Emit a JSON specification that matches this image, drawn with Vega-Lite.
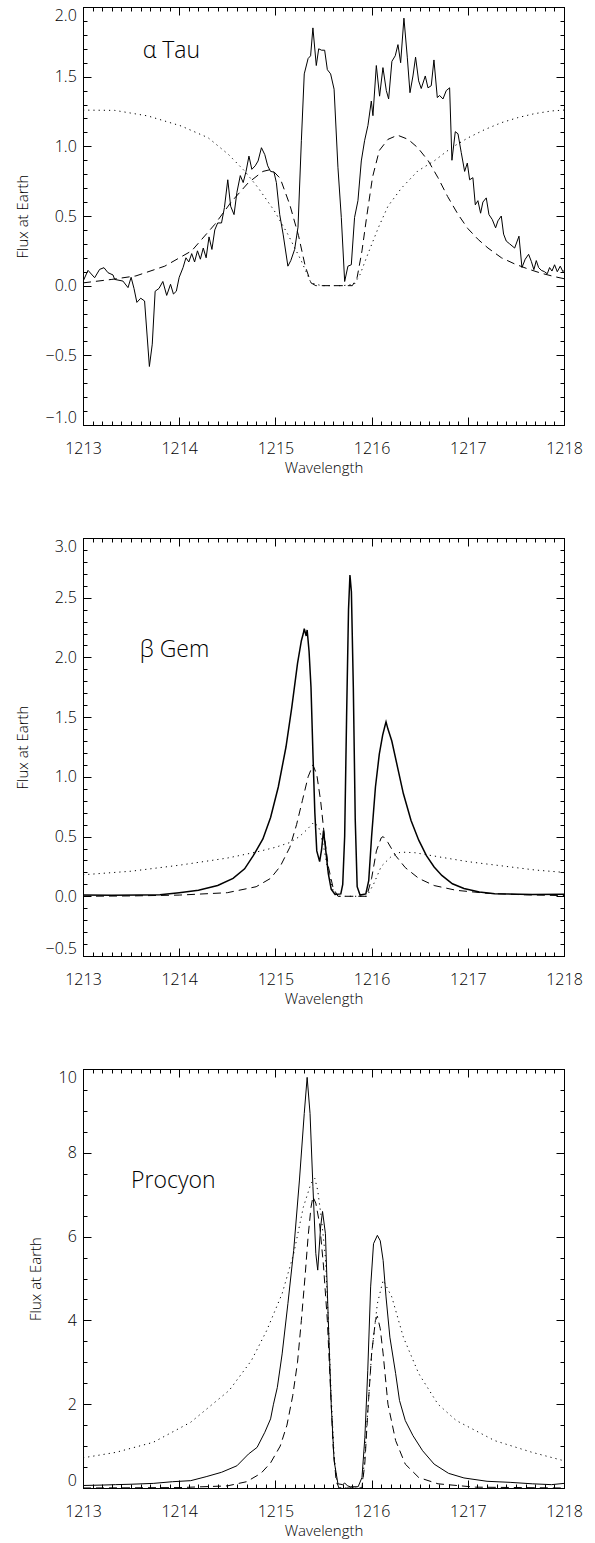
{
  "$schema": "https://vega.github.io/schema/vega-lite/v6.json",
  "padding": {"left": 14, "top": 6, "right": 5, "bottom": 5},
  "background": "white",
  "spacing": 113,
  "bounds": "flush",
  "config": {
    "view": {"stroke": "black", "strokeWidth": 1},
    "axis": {"grid": false, "domain": false, "tickColor": "black", "tickWidth": 1, "labelColor": "black", "titleColor": "black", "labelFont": "Open Sans", "titleFont": "Open Sans", "labelFontSize": 16, "labelFontWeight": 300, "titleFontSize": 15, "titleFontWeight": 300, "labelOverlap": false},
    "text": {"font": "Open Sans", "fontWeight": 300}
  },
  "datasets": {
    "tau_obs": [
      {"w":1213.0,"f":0.03},{"w":1213.052,"f":0.11},{"w":1213.121,"f":0.057},{"w":1213.173,"f":0.117},{"w":1213.218,"f":0.129},{"w":1213.26,"f":0.093},{"w":1213.312,"f":0.077},{"w":1213.329,"f":0.045},{"w":1213.415,"f":0.033},{"w":1213.468,"f":-0.014},{"w":1213.5,"f":0.06},{"w":1213.53,"f":-0.02},{"w":1213.56,"f":-0.12},{"w":1213.6,"f":-0.09},{"w":1213.64,"f":-0.11},{"w":1213.69,"f":-0.58},{"w":1213.72,"f":-0.42},{"w":1213.75,"f":-0.04},{"w":1213.79,"f":-0.02},{"w":1213.83,"f":0.03},{"w":1213.87,"f":-0.07},{"w":1213.91,"f":0.01},{"w":1213.94,"f":-0.06},{"w":1213.97,"f":-0.04},{"w":1214.0,"f":0.06},{"w":1214.04,"f":0.13},{"w":1214.07,"f":0.2},{"w":1214.1,"f":0.17},{"w":1214.13,"f":0.23},{"w":1214.16,"f":0.17},{"w":1214.19,"f":0.25},{"w":1214.22,"f":0.19},{"w":1214.25,"f":0.27},{"w":1214.28,"f":0.2},{"w":1214.31,"f":0.35},{"w":1214.34,"f":0.26},{"w":1214.37,"f":0.4},{"w":1214.4,"f":0.45},{"w":1214.44,"f":0.45},{"w":1214.47,"f":0.56},{"w":1214.505,"f":0.76},{"w":1214.535,"f":0.57},{"w":1214.57,"f":0.51},{"w":1214.6,"f":0.67},{"w":1214.635,"f":0.79},{"w":1214.665,"f":0.74},{"w":1214.695,"f":0.82},{"w":1214.725,"f":0.93},{"w":1214.755,"f":0.835},{"w":1214.79,"f":0.86},{"w":1214.82,"f":0.895},{"w":1214.855,"f":0.99},{"w":1214.89,"f":0.94},{"w":1214.92,"f":0.86},{"w":1214.95,"f":0.82},{"w":1214.985,"f":0.815},{"w":1215.01,"f":0.74},{"w":1215.045,"f":0.51},{"w":1215.08,"f":0.37},{"w":1215.13,"f":0.14},{"w":1215.16,"f":0.18},{"w":1215.2,"f":0.26},{"w":1215.235,"f":0.42},{"w":1215.27,"f":1.04},{"w":1215.3,"f":1.52},{"w":1215.34,"f":1.63},{"w":1215.366,"f":1.65},{"w":1215.39,"f":1.85},{"w":1215.425,"f":1.58},{"w":1215.45,"f":1.7},{"w":1215.48,"f":1.69},{"w":1215.512,"f":1.69},{"w":1215.54,"f":1.55},{"w":1215.574,"f":1.52},{"w":1215.61,"f":1.41},{"w":1215.65,"f":0.85},{"w":1215.685,"f":0.49},{"w":1215.72,"f":0.03},{"w":1215.754,"f":0.14},{"w":1215.789,"f":0.15},{"w":1215.823,"f":0.49},{"w":1215.858,"f":0.61},{"w":1215.893,"f":0.895},{"w":1215.927,"f":1.04},{"w":1215.962,"f":1.15},{"w":1215.997,"f":1.325},{"w":1216.014,"f":1.22},{"w":1216.049,"f":1.58},{"w":1216.083,"f":1.36},{"w":1216.118,"f":1.565},{"w":1216.153,"f":1.4},{"w":1216.177,"f":1.34},{"w":1216.211,"f":1.61},{"w":1216.246,"f":1.65},{"w":1216.274,"f":1.73},{"w":1216.302,"f":1.6},{"w":1216.336,"f":1.92},{"w":1216.371,"f":1.64},{"w":1216.399,"f":1.385},{"w":1216.43,"f":1.505},{"w":1216.457,"f":1.64},{"w":1216.489,"f":1.47},{"w":1216.516,"f":1.415},{"w":1216.558,"f":1.505},{"w":1216.586,"f":1.42},{"w":1216.62,"f":1.435},{"w":1216.648,"f":1.62},{"w":1216.683,"f":1.35},{"w":1216.707,"f":1.365},{"w":1216.742,"f":1.34},{"w":1216.776,"f":1.4},{"w":1216.811,"f":1.42},{"w":1216.835,"f":0.9},{"w":1216.87,"f":1.105},{"w":1216.898,"f":1.09},{"w":1216.932,"f":0.955},{"w":1216.967,"f":0.82},{"w":1216.995,"f":0.88},{"w":1217.019,"f":0.76},{"w":1217.053,"f":0.775},{"w":1217.078,"f":0.58},{"w":1217.105,"f":0.61},{"w":1217.133,"f":0.52},{"w":1217.157,"f":0.6},{"w":1217.192,"f":0.63},{"w":1217.22,"f":0.51},{"w":1217.254,"f":0.475},{"w":1217.289,"f":0.415},{"w":1217.313,"f":0.465},{"w":1217.348,"f":0.5},{"w":1217.372,"f":0.37},{"w":1217.4,"f":0.32},{"w":1217.435,"f":0.3},{"w":1217.487,"f":0.27},{"w":1217.532,"f":0.355},{"w":1217.563,"f":0.13},{"w":1217.597,"f":0.19},{"w":1217.632,"f":0.225},{"w":1217.66,"f":0.175},{"w":1217.687,"f":0.115},{"w":1217.712,"f":0.18},{"w":1217.736,"f":0.13},{"w":1217.764,"f":0.11},{"w":1217.798,"f":0.1},{"w":1217.826,"f":0.085},{"w":1217.85,"f":0.13},{"w":1217.875,"f":0.105},{"w":1217.902,"f":0.15},{"w":1217.93,"f":0.1},{"w":1217.961,"f":0.14},{"w":1217.989,"f":0.1},{"w":1218.0,"f":0.11}
    ],
    "tau_dash": [
      {"w":1213.0,"f":0.02},{"w":1213.3,"f":0.045},{"w":1213.55,"f":0.07},{"w":1213.85,"f":0.14},{"w":1214.13,"f":0.25},{"w":1214.37,"f":0.44},{"w":1214.54,"f":0.6},{"w":1214.72,"f":0.74},{"w":1214.87,"f":0.82},{"w":1214.96,"f":0.835},{"w":1215.05,"f":0.77},{"w":1215.15,"f":0.58},{"w":1215.24,"f":0.36},{"w":1215.31,"f":0.14},{"w":1215.37,"f":0.02},{"w":1215.42,"f":0.0},{"w":1215.8,"f":0.0},{"w":1215.85,"f":0.06},{"w":1215.9,"f":0.25},{"w":1215.95,"f":0.5},{"w":1216.01,"f":0.78},{"w":1216.08,"f":0.97},{"w":1216.17,"f":1.05},{"w":1216.27,"f":1.08},{"w":1216.38,"f":1.05},{"w":1216.48,"f":0.99},{"w":1216.59,"f":0.895},{"w":1216.69,"f":0.775},{"w":1216.79,"f":0.64},{"w":1216.9,"f":0.51},{"w":1217.0,"f":0.41},{"w":1217.11,"f":0.33},{"w":1217.21,"f":0.27},{"w":1217.35,"f":0.2},{"w":1217.49,"f":0.155},{"w":1217.625,"f":0.12},{"w":1217.76,"f":0.09},{"w":1217.9,"f":0.065},{"w":1218.0,"f":0.05}
    ],
    "tau_dot": [
      {"w":1213.0,"f":1.26},{"w":1213.33,"f":1.258},{"w":1213.675,"f":1.218},{"w":1214.02,"f":1.146},{"w":1214.3,"f":1.062},{"w":1214.51,"f":0.943},{"w":1214.68,"f":0.823},{"w":1214.82,"f":0.703},{"w":1214.99,"f":0.536},{"w":1215.13,"f":0.368},{"w":1215.27,"f":0.177},{"w":1215.37,"f":0.02},{"w":1215.48,"f":0.0},{"w":1215.7,"f":0.0},{"w":1215.82,"f":0.01},{"w":1215.88,"f":0.08},{"w":1215.96,"f":0.225},{"w":1216.07,"f":0.416},{"w":1216.17,"f":0.57},{"w":1216.31,"f":0.7},{"w":1216.48,"f":0.823},{"w":1216.65,"f":0.895},{"w":1216.83,"f":0.99},{"w":1217.0,"f":1.06},{"w":1217.175,"f":1.12},{"w":1217.35,"f":1.17},{"w":1217.52,"f":1.206},{"w":1217.69,"f":1.234},{"w":1217.87,"f":1.254},{"w":1218.0,"f":1.26}
    ],
    "gem_obs": [
      {"w":1213.0,"f":0.01},{"w":1213.3,"f":0.008},{"w":1213.6,"f":0.01},{"w":1213.8,"f":0.012},{"w":1214.0,"f":0.03},{"w":1214.2,"f":0.05},{"w":1214.4,"f":0.09},{"w":1214.56,"f":0.15},{"w":1214.68,"f":0.23},{"w":1214.77,"f":0.34},{"w":1214.87,"f":0.48},{"w":1214.95,"f":0.66},{"w":1215.03,"f":0.915},{"w":1215.11,"f":1.25},{"w":1215.17,"f":1.58},{"w":1215.23,"f":1.95},{"w":1215.27,"f":2.14},{"w":1215.29,"f":2.2},{"w":1215.3,"f":2.24},{"w":1215.32,"f":2.18},{"w":1215.33,"f":2.23},{"w":1215.35,"f":2.05},{"w":1215.37,"f":1.75},{"w":1215.39,"f":1.2},{"w":1215.41,"f":0.7},{"w":1215.43,"f":0.38},{"w":1215.46,"f":0.29},{"w":1215.48,"f":0.39},{"w":1215.5,"f":0.55},{"w":1215.52,"f":0.41},{"w":1215.55,"f":0.19},{"w":1215.58,"f":0.06},{"w":1215.62,"f":0.015},{"w":1215.68,"f":0.02},{"w":1215.7,"f":0.1},{"w":1215.72,"f":0.5},{"w":1215.74,"f":1.5},{"w":1215.76,"f":2.4},{"w":1215.775,"f":2.69},{"w":1215.79,"f":2.55},{"w":1215.81,"f":1.75},{"w":1215.83,"f":0.64},{"w":1215.85,"f":0.08},{"w":1215.88,"f":0.01},{"w":1215.94,"f":0.02},{"w":1215.97,"f":0.13},{"w":1216.0,"f":0.5},{"w":1216.04,"f":0.915},{"w":1216.08,"f":1.19},{"w":1216.115,"f":1.35},{"w":1216.14,"f":1.43},{"w":1216.15,"f":1.46},{"w":1216.17,"f":1.4},{"w":1216.21,"f":1.3},{"w":1216.27,"f":1.08},{"w":1216.33,"f":0.86},{"w":1216.41,"f":0.635},{"w":1216.49,"f":0.47},{"w":1216.57,"f":0.34},{"w":1216.65,"f":0.245},{"w":1216.73,"f":0.175},{"w":1216.84,"f":0.105},{"w":1216.96,"f":0.065},{"w":1217.12,"f":0.036},{"w":1217.28,"f":0.022},{"w":1217.67,"f":0.014},{"w":1218.0,"f":0.017}
    ],
    "gem_dash": [
      {"w":1213.0,"f":0.0},{"w":1213.5,"f":0.003},{"w":1214.0,"f":0.01},{"w":1214.5,"f":0.03},{"w":1214.8,"f":0.08},{"w":1214.95,"f":0.15},{"w":1215.05,"f":0.25},{"w":1215.15,"f":0.41},{"w":1215.22,"f":0.6},{"w":1215.28,"f":0.8},{"w":1215.34,"f":1.0},{"w":1215.39,"f":1.1},{"w":1215.43,"f":1.02},{"w":1215.47,"f":0.8},{"w":1215.51,"f":0.5},{"w":1215.55,"f":0.25},{"w":1215.6,"f":0.07},{"w":1215.65,"f":0.0},{"w":1215.95,"f":0.0},{"w":1216.0,"f":0.15},{"w":1216.05,"f":0.38},{"w":1216.1,"f":0.49},{"w":1216.12,"f":0.5},{"w":1216.17,"f":0.45},{"w":1216.25,"f":0.34},{"w":1216.35,"f":0.24},{"w":1216.49,"f":0.15},{"w":1216.65,"f":0.09},{"w":1216.88,"f":0.05},{"w":1217.2,"f":0.025},{"w":1217.6,"f":0.012},{"w":1218.0,"f":0.006}
    ],
    "gem_dot": [
      {"w":1213.0,"f":0.18},{"w":1213.5,"f":0.21},{"w":1214.0,"f":0.26},{"w":1214.5,"f":0.32},{"w":1214.8,"f":0.37},{"w":1215.0,"f":0.41},{"w":1215.15,"f":0.45},{"w":1215.25,"f":0.5},{"w":1215.33,"f":0.56},{"w":1215.4,"f":0.62},{"w":1215.45,"f":0.58},{"w":1215.5,"f":0.42},{"w":1215.55,"f":0.2},{"w":1215.6,"f":0.05},{"w":1215.65,"f":0.0},{"w":1215.95,"f":0.0},{"w":1216.02,"f":0.1},{"w":1216.1,"f":0.25},{"w":1216.2,"f":0.33},{"w":1216.3,"f":0.37},{"w":1216.45,"f":0.365},{"w":1216.7,"f":0.33},{"w":1217.0,"f":0.29},{"w":1217.4,"f":0.25},{"w":1217.7,"f":0.22},{"w":1218.0,"f":0.2}
    ],
    "pro_obs": [
      {"w":1213.0,"f":0.06},{"w":1213.2,"f":0.07},{"w":1213.34,"f":0.08},{"w":1213.5,"f":0.09},{"w":1213.73,"f":0.11},{"w":1213.93,"f":0.15},{"w":1214.12,"f":0.175},{"w":1214.28,"f":0.27},{"w":1214.44,"f":0.375},{"w":1214.6,"f":0.53},{"w":1214.72,"f":0.81},{"w":1214.81,"f":0.97},{"w":1214.89,"f":1.33},{"w":1214.95,"f":1.65},{"w":1214.98,"f":2.0},{"w":1215.02,"f":2.4},{"w":1215.07,"f":3.2},{"w":1215.13,"f":4.4},{"w":1215.19,"f":5.67},{"w":1215.25,"f":7.35},{"w":1215.3,"f":8.94},{"w":1215.33,"f":9.8},{"w":1215.36,"f":8.94},{"w":1215.39,"f":7.2},{"w":1215.42,"f":5.6},{"w":1215.44,"f":5.2},{"w":1215.47,"f":6.23},{"w":1215.49,"f":6.6},{"w":1215.52,"f":6.07},{"w":1215.55,"f":4.0},{"w":1215.58,"f":2.0},{"w":1215.61,"f":0.65},{"w":1215.65,"f":0.1},{"w":1215.7,"f":0.08},{"w":1215.72,"f":0.12},{"w":1215.75,"f":0.05},{"w":1215.78,"f":0.03},{"w":1215.86,"f":0.03},{"w":1215.9,"f":0.25},{"w":1215.93,"f":1.21},{"w":1215.96,"f":2.8},{"w":1215.99,"f":4.8},{"w":1216.02,"f":5.83},{"w":1216.06,"f":6.03},{"w":1216.09,"f":5.9},{"w":1216.12,"f":5.43},{"w":1216.15,"f":4.56},{"w":1216.19,"f":3.6},{"w":1216.25,"f":2.73},{"w":1216.29,"f":2.09},{"w":1216.35,"f":1.61},{"w":1216.43,"f":1.25},{"w":1216.53,"f":0.89},{"w":1216.65,"f":0.57},{"w":1216.8,"f":0.35},{"w":1216.96,"f":0.24},{"w":1217.2,"f":0.16},{"w":1217.44,"f":0.135},{"w":1217.67,"f":0.1},{"w":1217.87,"f":0.08},{"w":1218.0,"f":0.11}
    ],
    "pro_dash": [
      {"w":1213.0,"f":0.0},{"w":1214.0,"f":0.01},{"w":1214.5,"f":0.05},{"w":1214.7,"f":0.15},{"w":1214.85,"f":0.35},{"w":1214.95,"f":0.6},{"w":1215.05,"f":1.0},{"w":1215.12,"f":1.5},{"w":1215.18,"f":2.2},{"w":1215.23,"f":3.0},{"w":1215.27,"f":4.0},{"w":1215.31,"f":5.1},{"w":1215.34,"f":6.0},{"w":1215.37,"f":6.7},{"w":1215.39,"f":6.95},{"w":1215.42,"f":6.8},{"w":1215.46,"f":6.3},{"w":1215.5,"f":5.3},{"w":1215.54,"f":4.0},{"w":1215.57,"f":2.5},{"w":1215.6,"f":1.0},{"w":1215.63,"f":0.2},{"w":1215.66,"f":0.0},{"w":1215.9,"f":0.0},{"w":1215.93,"f":0.6},{"w":1215.96,"f":1.8},{"w":1216.0,"f":3.2},{"w":1216.04,"f":4.0},{"w":1216.06,"f":4.1},{"w":1216.09,"f":3.8},{"w":1216.12,"f":3.2},{"w":1216.17,"f":2.0},{"w":1216.25,"f":1.13},{"w":1216.35,"f":0.57},{"w":1216.49,"f":0.25},{"w":1216.69,"f":0.1},{"w":1217.08,"f":0.02},{"w":1218.0,"f":0.0}
    ],
    "pro_dot": [
      {"w":1213.0,"f":0.72},{"w":1213.34,"f":0.85},{"w":1213.73,"f":1.09},{"w":1214.12,"f":1.57},{"w":1214.52,"f":2.33},{"w":1214.75,"f":3.04},{"w":1214.91,"f":3.76},{"w":1215.07,"f":4.64},{"w":1215.19,"f":5.59},{"w":1215.29,"f":6.7},{"w":1215.37,"f":7.27},{"w":1215.41,"f":7.39},{"w":1215.44,"f":7.1},{"w":1215.48,"f":6.4},{"w":1215.52,"f":5.5},{"w":1215.55,"f":4.0},{"w":1215.58,"f":2.2},{"w":1215.61,"f":0.8},{"w":1215.64,"f":0.1},{"w":1215.67,"f":0.0},{"w":1215.9,"f":0.0},{"w":1215.93,"f":0.8},{"w":1215.97,"f":2.2},{"w":1216.0,"f":3.2},{"w":1216.06,"f":4.4},{"w":1216.12,"f":4.96},{"w":1216.21,"f":4.56},{"w":1216.33,"f":3.6},{"w":1216.49,"f":2.73},{"w":1216.69,"f":2.0},{"w":1216.88,"f":1.61},{"w":1217.28,"f":1.13},{"w":1217.67,"f":0.85},{"w":1218.0,"f":0.65}
    ]
  },
  "vconcat": [
    {
      "width": 481, "height": 418,
      "resolve": {"axis": {"x": "independent", "y": "independent"}},
      "layer": [
        {
          "data": {"name": "tau_obs"},
          "mark": {"type": "line", "color": "black", "strokeWidth": 1, "clip": true},
          "encoding": {
            "x": {"field": "w", "type": "quantitative", "scale": {"domain": [1213, 1218], "nice": false, "zero": false},
                  "axis": {"orient": "bottom", "values": [1213,1214,1215,1216,1217,1218], "format": "d", "tickSize": -8, "labelPadding": 23.5, "labelFlush": false, "title": "Wavelength", "titlePadding": 4}},
            "y": {"field": "f", "type": "quantitative", "scale": {"domain": [-1, 2], "nice": false, "zero": false},
                  "axis": {"orient": "left", "values": [-1,-0.5,0,0.5,1,1.5,2], "format": ".1f", "tickSize": -8, "labelPadding": 14.7, "labelFlush": true, "title": "Flux at Earth", "titlePadding": 15}}
          }
        },
        {
          "data": {"name": "tau_dash"},
          "mark": {"type": "line", "color": "black", "strokeWidth": 1, "strokeDash": [8, 5], "clip": true},
          "encoding": {
            "x": {"field": "w", "type": "quantitative", "scale": {"domain": [1213, 1218], "nice": false, "zero": false},
                  "axis": {"orient": "bottom", "values": [1213,1213.1,1213.2,1213.3,1213.4,1213.5,1213.6,1213.7,1213.8,1213.9,1214,1214.1,1214.2,1214.3,1214.4,1214.5,1214.6,1214.7,1214.8,1214.9,1215,1215.1,1215.2,1215.3,1215.4,1215.5,1215.6,1215.7,1215.8,1215.9,1216,1216.1,1216.2,1216.3,1216.4,1216.5,1216.6,1216.7,1216.8,1216.9,1217,1217.1,1217.2,1217.3,1217.4,1217.5,1217.6,1217.7,1217.8,1217.9,1218], "labels": false, "tickSize": -4, "title": null}},
            "y": {"field": "f", "type": "quantitative", "scale": {"domain": [-1, 2], "nice": false, "zero": false},
                  "axis": {"orient": "left", "values": [-1,-0.9,-0.8,-0.7,-0.6,-0.5,-0.4,-0.3,-0.2,-0.1,0,0.1,0.2,0.3,0.4,0.5,0.6,0.7,0.8,0.9,1,1.1,1.2,1.3,1.4,1.5,1.6,1.7,1.8,1.9,2], "labels": false, "tickSize": -4, "title": null}}
          }
        },
        {
          "data": {"name": "tau_dot"},
          "mark": {"type": "line", "color": "black", "strokeWidth": 1, "strokeDash": [1.2, 4], "clip": true},
          "encoding": {
            "x": {"field": "w", "type": "quantitative", "scale": {"domain": [1213, 1218], "nice": false, "zero": false},
                  "axis": {"orient": "top", "values": [1213,1214,1215,1216,1217,1218], "labels": false, "tickSize": -8, "title": null}},
            "y": {"field": "f", "type": "quantitative", "scale": {"domain": [-1, 2], "nice": false, "zero": false},
                  "axis": {"orient": "right", "values": [-1,-0.5,0,0.5,1,1.5,2], "labels": false, "tickSize": -8, "title": null}}
          }
        },
        {
          "data": {"values": [{"w": 1213.62, "f": 1.635, "t": "α  Tau"}]},
          "mark": {"type": "text", "align": "left", "baseline": "alphabetic", "fontSize": 23, "color": "black"},
          "encoding": {
            "x": {"field": "w", "type": "quantitative", "scale": {"domain": [1213, 1218], "nice": false, "zero": false},
                  "axis": {"orient": "top", "values": [1213,1213.1,1213.2,1213.3,1213.4,1213.5,1213.6,1213.7,1213.8,1213.9,1214,1214.1,1214.2,1214.3,1214.4,1214.5,1214.6,1214.7,1214.8,1214.9,1215,1215.1,1215.2,1215.3,1215.4,1215.5,1215.6,1215.7,1215.8,1215.9,1216,1216.1,1216.2,1216.3,1216.4,1216.5,1216.6,1216.7,1216.8,1216.9,1217,1217.1,1217.2,1217.3,1217.4,1217.5,1217.6,1217.7,1217.8,1217.9,1218], "labels": false, "tickSize": -4, "title": null}},
            "y": {"field": "f", "type": "quantitative", "scale": {"domain": [-1, 2], "nice": false, "zero": false},
                  "axis": {"orient": "right", "values": [-1,-0.9,-0.8,-0.7,-0.6,-0.5,-0.4,-0.3,-0.2,-0.1,0,0.1,0.2,0.3,0.4,0.5,0.6,0.7,0.8,0.9,1,1.1,1.2,1.3,1.4,1.5,1.6,1.7,1.8,1.9,2], "labels": false, "tickSize": -4, "title": null}},
            "text": {"field": "t", "type": "nominal"}
          }
        }
      ]
    },
    {
      "width": 481, "height": 418,
      "resolve": {"axis": {"x": "independent", "y": "independent"}},
      "layer": [
        {
          "data": {"name": "gem_obs"},
          "mark": {"type": "line", "color": "black", "strokeWidth": 1.5, "clip": true},
          "encoding": {
            "x": {"field": "w", "type": "quantitative", "scale": {"domain": [1213, 1218], "nice": false, "zero": false},
                  "axis": {"orient": "bottom", "values": [1213,1214,1215,1216,1217,1218], "format": "d", "tickSize": -8, "labelPadding": 23.5, "labelFlush": false, "title": "Wavelength", "titlePadding": 4}},
            "y": {"field": "f", "type": "quantitative", "scale": {"domain": [-0.5, 3], "nice": false, "zero": false},
                  "axis": {"orient": "left", "values": [-0.5,0,0.5,1,1.5,2,2.5,3], "format": ".1f", "tickSize": -8, "labelPadding": 14.7, "labelFlush": true, "title": "Flux at Earth", "titlePadding": 15}}
          }
        },
        {
          "data": {"name": "gem_dash"},
          "mark": {"type": "line", "color": "black", "strokeWidth": 1, "strokeDash": [8, 5], "clip": true},
          "encoding": {
            "x": {"field": "w", "type": "quantitative", "scale": {"domain": [1213, 1218], "nice": false, "zero": false},
                  "axis": {"orient": "bottom", "values": [1213,1213.1,1213.2,1213.3,1213.4,1213.5,1213.6,1213.7,1213.8,1213.9,1214,1214.1,1214.2,1214.3,1214.4,1214.5,1214.6,1214.7,1214.8,1214.9,1215,1215.1,1215.2,1215.3,1215.4,1215.5,1215.6,1215.7,1215.8,1215.9,1216,1216.1,1216.2,1216.3,1216.4,1216.5,1216.6,1216.7,1216.8,1216.9,1217,1217.1,1217.2,1217.3,1217.4,1217.5,1217.6,1217.7,1217.8,1217.9,1218], "labels": false, "tickSize": -4, "title": null}},
            "y": {"field": "f", "type": "quantitative", "scale": {"domain": [-0.5, 3], "nice": false, "zero": false},
                  "axis": {"orient": "left", "values": [-0.5,-0.4,-0.3,-0.2,-0.1,0,0.1,0.2,0.3,0.4,0.5,0.6,0.7,0.8,0.9,1,1.1,1.2,1.3,1.4,1.5,1.6,1.7,1.8,1.9,2,2.1,2.2,2.3,2.4,2.5,2.6,2.7,2.8,2.9,3], "labels": false, "tickSize": -4, "title": null}}
          }
        },
        {
          "data": {"name": "gem_dot"},
          "mark": {"type": "line", "color": "black", "strokeWidth": 1, "strokeDash": [1.2, 4], "clip": true},
          "encoding": {
            "x": {"field": "w", "type": "quantitative", "scale": {"domain": [1213, 1218], "nice": false, "zero": false},
                  "axis": {"orient": "top", "values": [1213,1214,1215,1216,1217,1218], "labels": false, "tickSize": -8, "title": null}},
            "y": {"field": "f", "type": "quantitative", "scale": {"domain": [-0.5, 3], "nice": false, "zero": false},
                  "axis": {"orient": "right", "values": [-0.5,0,0.5,1,1.5,2,2.5,3], "labels": false, "tickSize": -8, "title": null}}
          }
        },
        {
          "data": {"values": [{"w": 1213.59, "f": 2.0, "t": "β  Gem"}]},
          "mark": {"type": "text", "align": "left", "baseline": "alphabetic", "fontSize": 23, "color": "black"},
          "encoding": {
            "x": {"field": "w", "type": "quantitative", "scale": {"domain": [1213, 1218], "nice": false, "zero": false},
                  "axis": {"orient": "top", "values": [1213,1213.1,1213.2,1213.3,1213.4,1213.5,1213.6,1213.7,1213.8,1213.9,1214,1214.1,1214.2,1214.3,1214.4,1214.5,1214.6,1214.7,1214.8,1214.9,1215,1215.1,1215.2,1215.3,1215.4,1215.5,1215.6,1215.7,1215.8,1215.9,1216,1216.1,1216.2,1216.3,1216.4,1216.5,1216.6,1216.7,1216.8,1216.9,1217,1217.1,1217.2,1217.3,1217.4,1217.5,1217.6,1217.7,1217.8,1217.9,1218], "labels": false, "tickSize": -4, "title": null}},
            "y": {"field": "f", "type": "quantitative", "scale": {"domain": [-0.5, 3], "nice": false, "zero": false},
                  "axis": {"orient": "right", "values": [-0.5,-0.4,-0.3,-0.2,-0.1,0,0.1,0.2,0.3,0.4,0.5,0.6,0.7,0.8,0.9,1,1.1,1.2,1.3,1.4,1.5,1.6,1.7,1.8,1.9,2,2.1,2.2,2.3,2.4,2.5,2.6,2.7,2.8,2.9,3], "labels": false, "tickSize": -4, "title": null}},
            "text": {"field": "t", "type": "nominal"}
          }
        }
      ]
    },
    {
      "width": 481, "height": 419,
      "resolve": {"axis": {"x": "independent", "y": "independent"}},
      "layer": [
        {
          "data": {"name": "pro_obs"},
          "mark": {"type": "line", "color": "black", "strokeWidth": 1, "clip": true},
          "encoding": {
            "x": {"field": "w", "type": "quantitative", "scale": {"domain": [1213, 1218], "nice": false, "zero": false},
                  "axis": {"orient": "bottom", "values": [1213,1214,1215,1216,1217,1218], "format": "d", "tickSize": -8, "labelPadding": 23.5, "labelFlush": false, "title": "Wavelength", "titlePadding": 4}},
            "y": {"field": "f", "type": "quantitative", "scale": {"domain": [0, 10], "nice": false, "zero": false},
                  "axis": {"orient": "left", "values": [0,2,4,6,8,10], "format": "d", "tickSize": -8, "labelPadding": 14.7, "labelFlush": true, "title": "Flux at Earth", "titlePadding": 15}}
          }
        },
        {
          "data": {"name": "pro_dash"},
          "mark": {"type": "line", "color": "black", "strokeWidth": 1, "strokeDash": [8, 5], "clip": true},
          "encoding": {
            "x": {"field": "w", "type": "quantitative", "scale": {"domain": [1213, 1218], "nice": false, "zero": false},
                  "axis": {"orient": "bottom", "values": [1213,1213.1,1213.2,1213.3,1213.4,1213.5,1213.6,1213.7,1213.8,1213.9,1214,1214.1,1214.2,1214.3,1214.4,1214.5,1214.6,1214.7,1214.8,1214.9,1215,1215.1,1215.2,1215.3,1215.4,1215.5,1215.6,1215.7,1215.8,1215.9,1216,1216.1,1216.2,1216.3,1216.4,1216.5,1216.6,1216.7,1216.8,1216.9,1217,1217.1,1217.2,1217.3,1217.4,1217.5,1217.6,1217.7,1217.8,1217.9,1218], "labels": false, "tickSize": -4, "title": null}},
            "y": {"field": "f", "type": "quantitative", "scale": {"domain": [0, 10], "nice": false, "zero": false},
                  "axis": {"orient": "left", "values": [0,0.5,1,1.5,2,2.5,3,3.5,4,4.5,5,5.5,6,6.5,7,7.5,8,8.5,9,9.5,10], "labels": false, "tickSize": -4, "title": null}}
          }
        },
        {
          "data": {"name": "pro_dot"},
          "mark": {"type": "line", "color": "black", "strokeWidth": 1, "strokeDash": [1.2, 4], "clip": true},
          "encoding": {
            "x": {"field": "w", "type": "quantitative", "scale": {"domain": [1213, 1218], "nice": false, "zero": false},
                  "axis": {"orient": "top", "values": [1213,1214,1215,1216,1217,1218], "labels": false, "tickSize": -8, "title": null}},
            "y": {"field": "f", "type": "quantitative", "scale": {"domain": [0, 10], "nice": false, "zero": false},
                  "axis": {"orient": "right", "values": [0,2,4,6,8,10], "labels": false, "tickSize": -8, "title": null}}
          }
        },
        {
          "data": {"values": [{"w": 1213.5, "f": 7.15, "t": "Procyon"}]},
          "mark": {"type": "text", "align": "left", "baseline": "alphabetic", "fontSize": 23, "color": "black"},
          "encoding": {
            "x": {"field": "w", "type": "quantitative", "scale": {"domain": [1213, 1218], "nice": false, "zero": false},
                  "axis": {"orient": "top", "values": [1213,1213.1,1213.2,1213.3,1213.4,1213.5,1213.6,1213.7,1213.8,1213.9,1214,1214.1,1214.2,1214.3,1214.4,1214.5,1214.6,1214.7,1214.8,1214.9,1215,1215.1,1215.2,1215.3,1215.4,1215.5,1215.6,1215.7,1215.8,1215.9,1216,1216.1,1216.2,1216.3,1216.4,1216.5,1216.6,1216.7,1216.8,1216.9,1217,1217.1,1217.2,1217.3,1217.4,1217.5,1217.6,1217.7,1217.8,1217.9,1218], "labels": false, "tickSize": -4, "title": null}},
            "y": {"field": "f", "type": "quantitative", "scale": {"domain": [0, 10], "nice": false, "zero": false},
                  "axis": {"orient": "right", "values": [0,0.5,1,1.5,2,2.5,3,3.5,4,4.5,5,5.5,6,6.5,7,7.5,8,8.5,9,9.5,10], "labels": false, "tickSize": -4, "title": null}},
            "text": {"field": "t", "type": "nominal"}
          }
        }
      ]
    }
  ]
}
